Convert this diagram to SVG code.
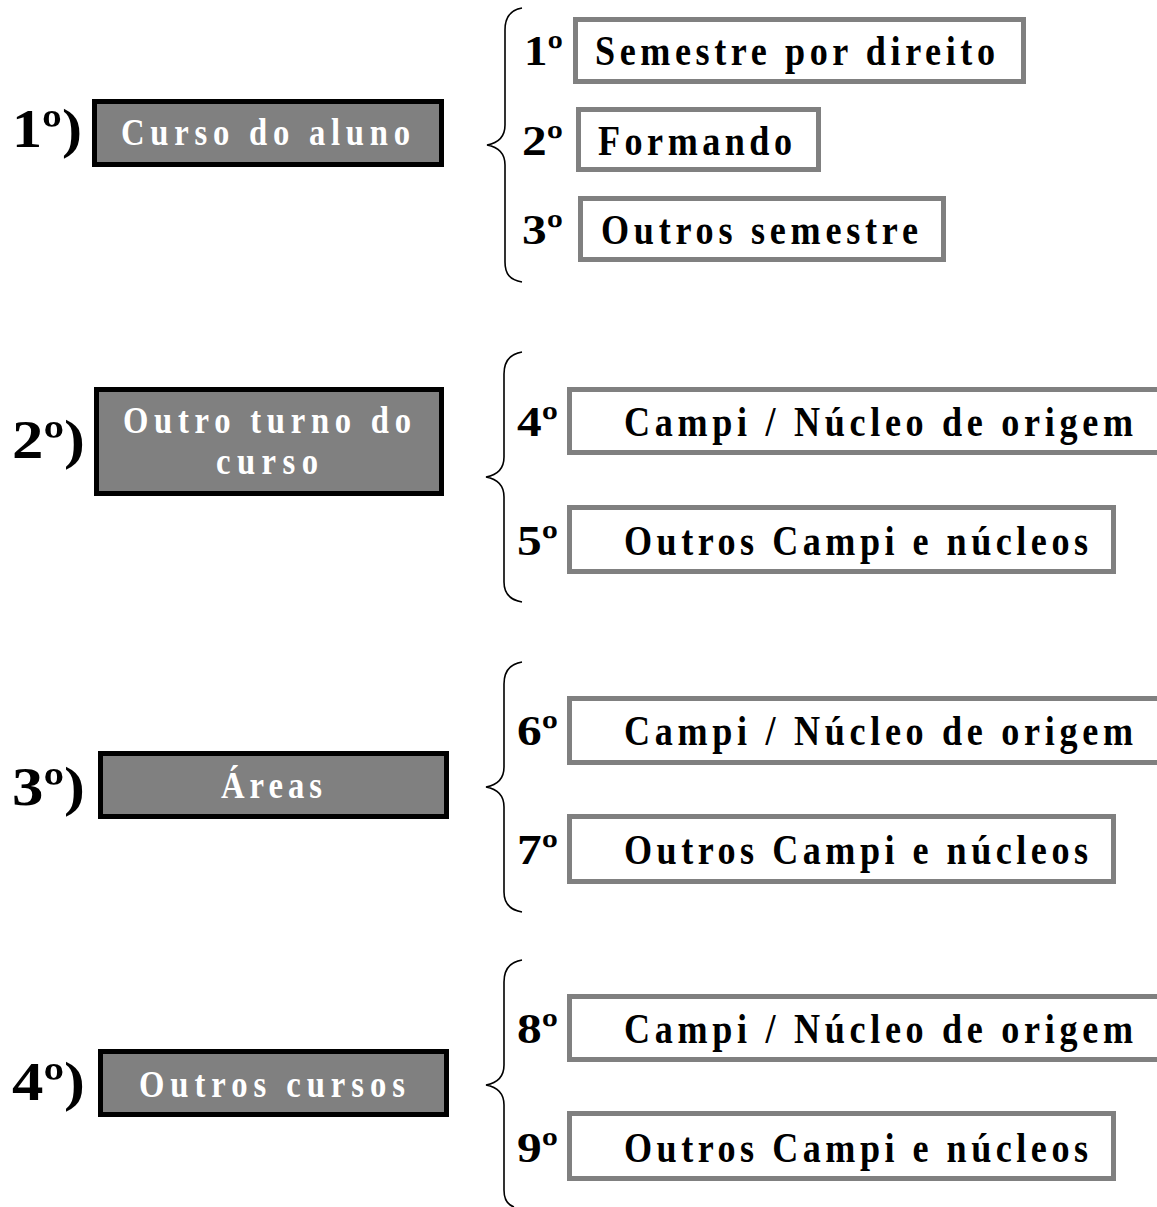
<svg xmlns="http://www.w3.org/2000/svg" width="1157" height="1207" viewBox="0 0 1157 1207">
<style>
text{font-family:"Liberation Serif","Times New Roman",serif;font-weight:bold}
.num{font-size:54px;fill:#000}
.sub{font-size:43px;fill:#000}
.main rect{fill:#808080;stroke:#000;stroke-width:5}
.main text{font-size:38px;fill:#fff}
.opt rect{fill:#fff;stroke:#808080;stroke-width:5}
.opt text{font-size:42px;fill:#000}
.brace{fill:none;stroke:#000;stroke-width:1.6}
</style>
<rect width="1157" height="1207" fill="#fff"/>
<g id="connectors">
<path class="brace" d="M522,8 C510,10 505,18 505,30 L505,125 C505,137 498,143 487,145 C498,147 505,153 505,165 L505,262 C505,274 510,280 522,282"/>
<path class="brace" d="M522,352 C510,354 504,362 504,374 L504,457 C504,469 497,475 486,477 C497,479 504,485 504,497 L504,582 C504,594 510,600 522,602"/>
<path class="brace" d="M522,662 C510,664 504,672 504,684 L504,767 C504,779 497,785 486,787 C497,789 504,795 504,807 L504,892 C504,904 510,910 522,912"/>
<path class="brace" d="M522,960 C510,962 504,970 504,982 L504,1065 C504,1077 497,1083 486,1085 C497,1087 504,1093 504,1105 L504,1190 C504,1200 508,1205 514,1207"/>
</g>
<g id="step1">
<text class="num" x="12" y="147" textLength="70" lengthAdjust="spacingAndGlyphs">1º)</text>
<g class="main" id="box-curso-aluno"><rect x="94.5" y="101.5" width="347" height="63"/><text transform="scale(0.86,1)" x="140.7" y="145" textLength="336.05" lengthAdjust="spacing">Curso do aluno</text></g>
</g>
<g id="opt1" class="opt"><text class="sub" x="524" y="65" textLength="39" lengthAdjust="spacingAndGlyphs">1º</text><rect x="575.5" y="19.5" width="448" height="62"/><text transform="scale(0.86,1)" x="691.86" y="65" textLength="465.12" lengthAdjust="spacing">Semestre por direito</text></g>
<g id="opt2" class="opt"><text class="sub" x="522" y="155" textLength="41" lengthAdjust="spacingAndGlyphs">2º</text><rect x="578.5" y="109.5" width="240" height="60"/><text transform="scale(0.86,1)" x="695.35" y="155" textLength="225.58" lengthAdjust="spacing">Formando</text></g>
<g id="opt3" class="opt"><text class="sub" x="522" y="244" textLength="41" lengthAdjust="spacingAndGlyphs">3º</text><rect x="580.5" y="198.5" width="363" height="61"/><text transform="scale(0.86,1)" x="698.84" y="244" textLength="368.6" lengthAdjust="spacing">Outros semestre</text></g>

<g id="step2">
<text class="num" x="12" y="458" textLength="73" lengthAdjust="spacingAndGlyphs">2º)</text>
<g class="main" id="box-outro-turno"><rect x="96.5" y="389.5" width="345" height="104"/><text transform="scale(0.86,1)" x="143.02" y="433" textLength="334.88" lengthAdjust="spacing">Outro turno do</text><text transform="scale(0.86,1)" x="251.16" y="474" textLength="118.6" lengthAdjust="spacing">curso</text></g>
</g>
<g id="opt4" class="opt"><text class="sub" x="517" y="436" textLength="41" lengthAdjust="spacingAndGlyphs">4º</text><rect x="569.5" y="389.5" width="600" height="63"/><text transform="scale(0.86,1)" x="725.58" y="436" textLength="591.86" lengthAdjust="spacing">Campi / Núcleo de origem</text></g>
<g id="opt5" class="opt"><text class="sub" x="517" y="555" textLength="41" lengthAdjust="spacingAndGlyphs">5º</text><rect x="569.5" y="507.5" width="544" height="64"/><text transform="scale(0.86,1)" x="725.58" y="555" textLength="539.53" lengthAdjust="spacing">Outros Campi e núcleos</text></g>

<g id="step3">
<text class="num" x="12" y="805" textLength="73" lengthAdjust="spacingAndGlyphs">3º)</text>
<g class="main" id="box-areas"><rect x="100.5" y="753.5" width="346" height="63"/><text transform="scale(0.86,1)" x="256.98" y="798" textLength="117.44" lengthAdjust="spacing">Áreas</text></g>
</g>
<g id="opt6" class="opt"><text class="sub" x="517" y="745" textLength="41" lengthAdjust="spacingAndGlyphs">6º</text><rect x="569.5" y="698.5" width="600" height="64"/><text transform="scale(0.86,1)" x="725.58" y="745" textLength="591.86" lengthAdjust="spacing">Campi / Núcleo de origem</text></g>
<g id="opt7" class="opt"><text class="sub" x="517" y="864" textLength="41" lengthAdjust="spacingAndGlyphs">7º</text><rect x="569.5" y="816.5" width="544" height="65"/><text transform="scale(0.86,1)" x="725.58" y="864" textLength="539.53" lengthAdjust="spacing">Outros Campi e núcleos</text></g>

<g id="step4">
<text class="num" x="12" y="1100" textLength="73" lengthAdjust="spacingAndGlyphs">4º)</text>
<g class="main" id="box-outros-cursos"><rect x="100.5" y="1051.5" width="346" height="63"/><text transform="scale(0.86,1)" x="161.63" y="1097" textLength="309.3" lengthAdjust="spacing">Outros cursos</text></g>
</g>
<g id="opt8" class="opt"><text class="sub" x="517" y="1043" textLength="41" lengthAdjust="spacingAndGlyphs">8º</text><rect x="569.5" y="996.5" width="600" height="63"/><text transform="scale(0.86,1)" x="725.58" y="1043" textLength="591.86" lengthAdjust="spacing">Campi / Núcleo de origem</text></g>
<g id="opt9" class="opt"><text class="sub" x="517" y="1162" textLength="41" lengthAdjust="spacingAndGlyphs">9º</text><rect x="569.5" y="1113.5" width="544" height="65"/><text transform="scale(0.86,1)" x="725.58" y="1162" textLength="539.53" lengthAdjust="spacing">Outros Campi e núcleos</text></g>
</svg>
